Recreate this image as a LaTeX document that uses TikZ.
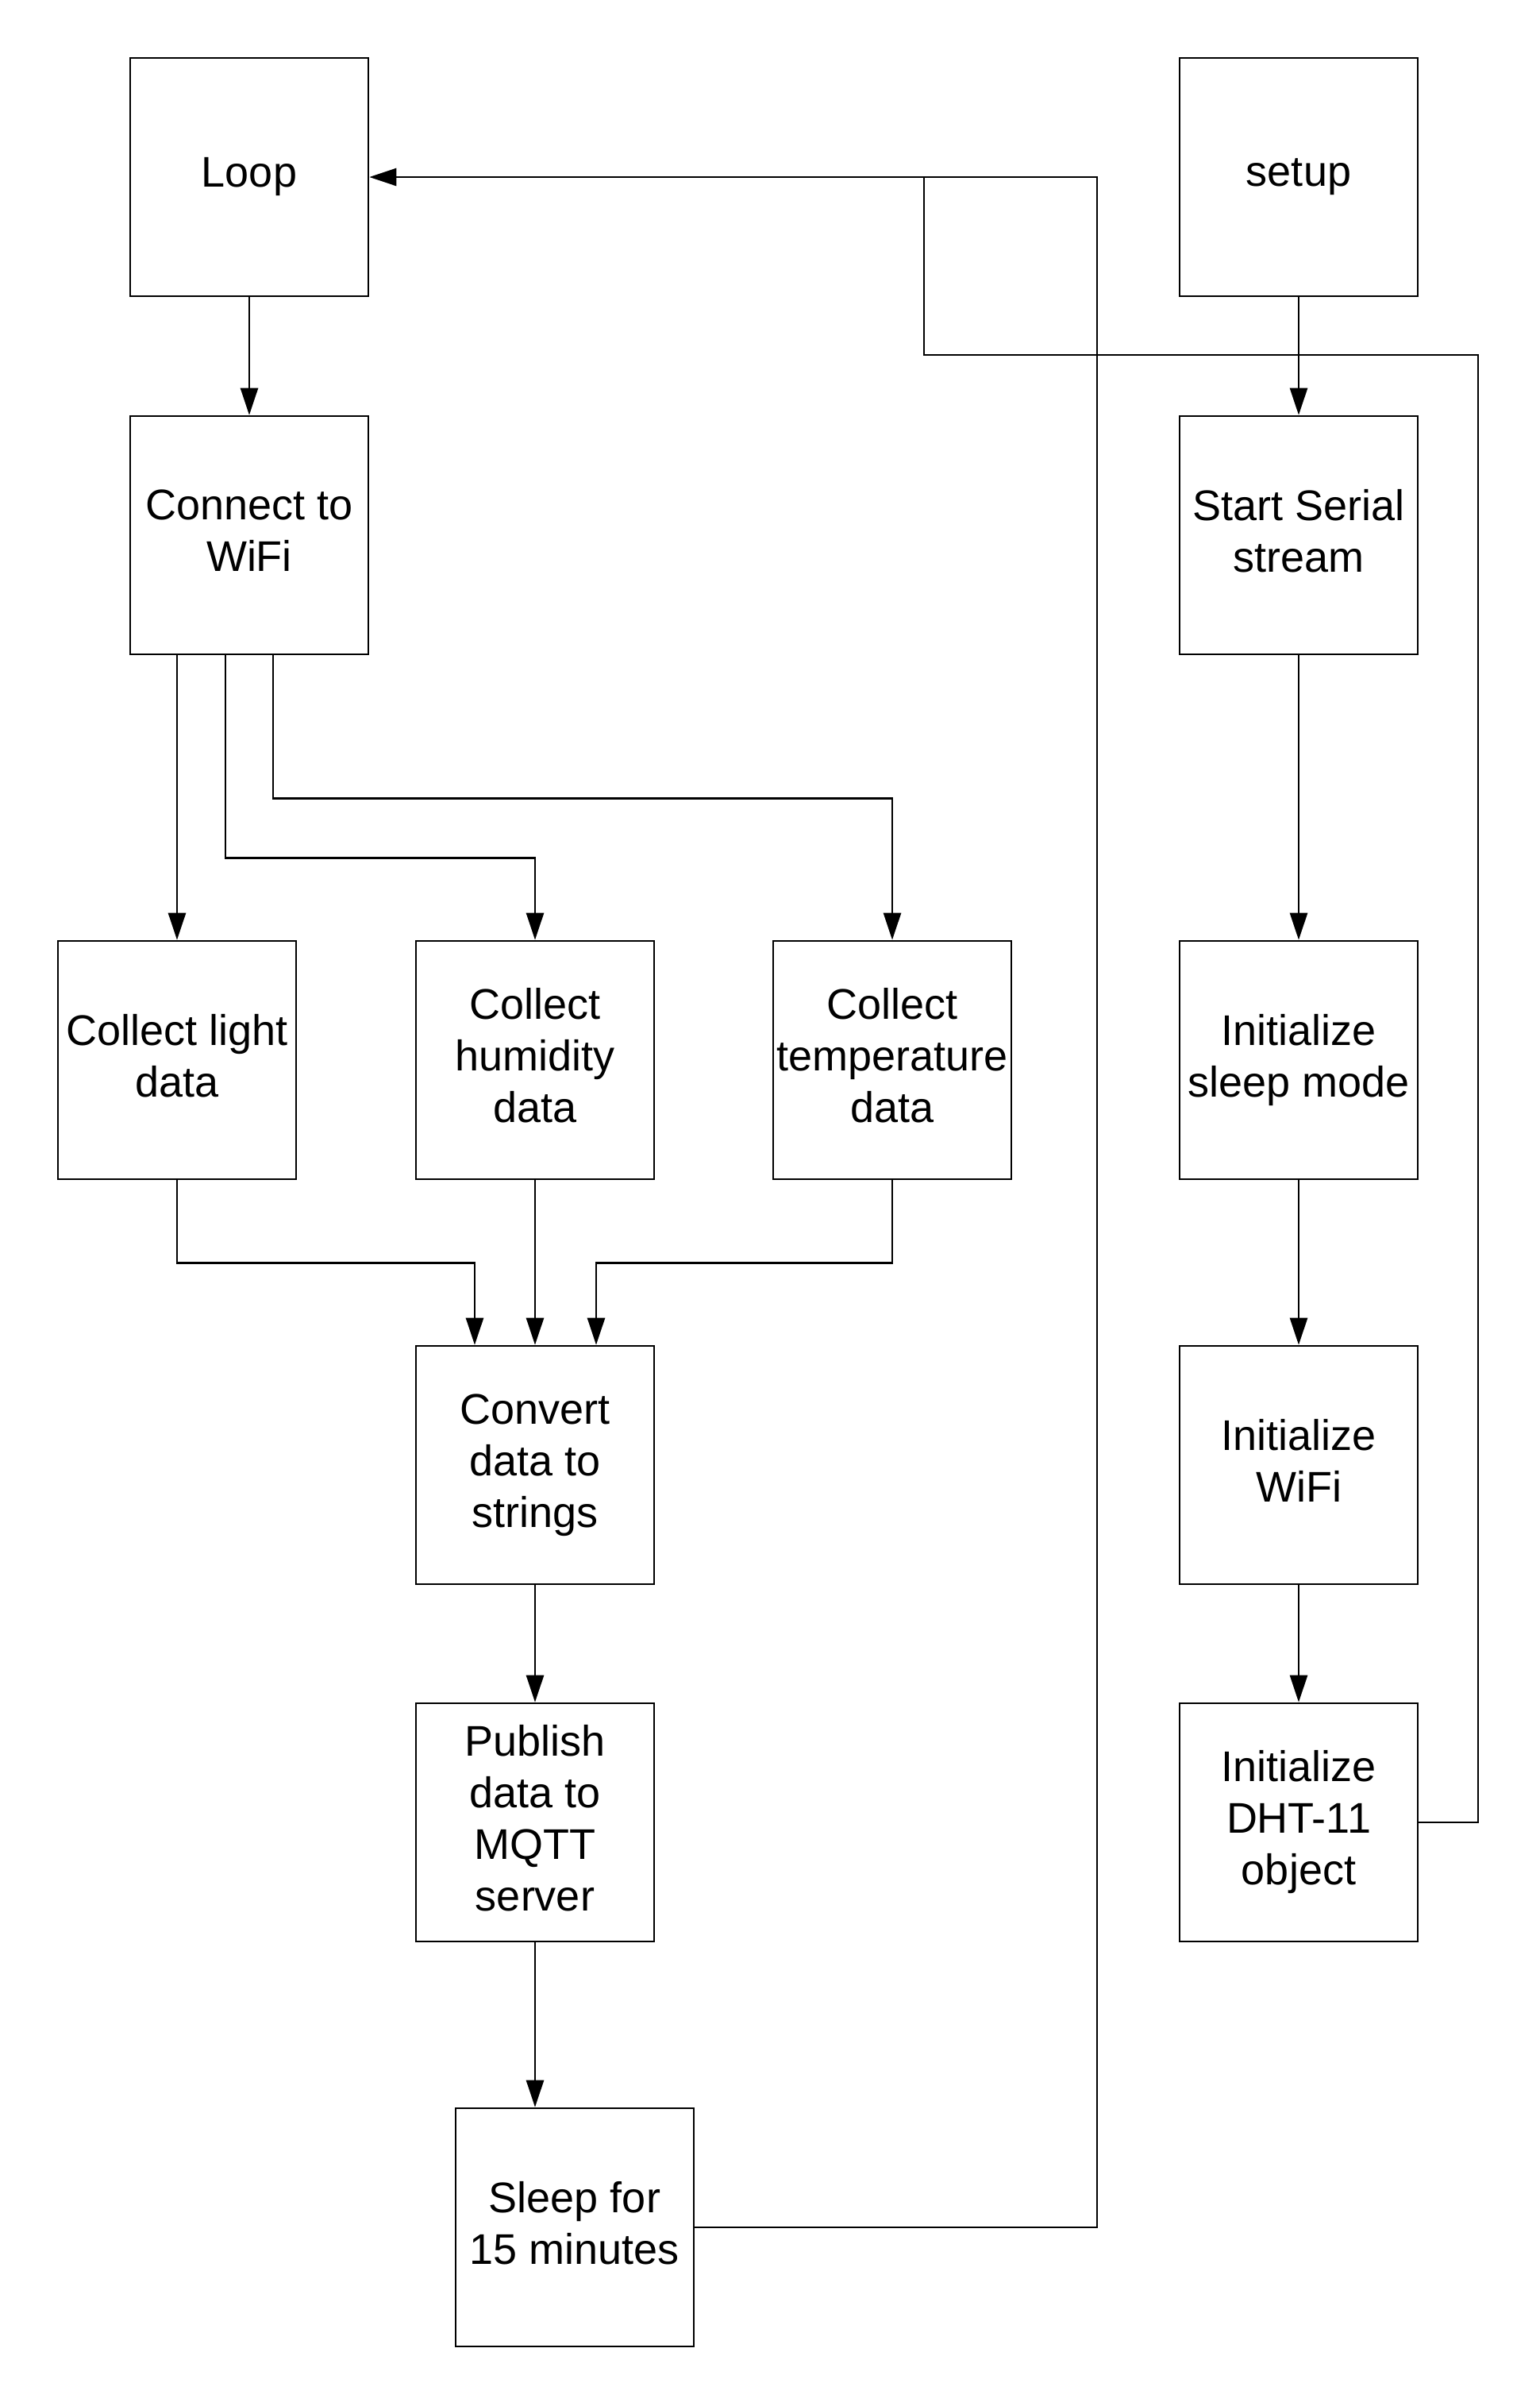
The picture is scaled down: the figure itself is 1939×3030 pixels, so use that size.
\documentclass[tikz,border=0pt]{standalone}
\usepackage{fontspec}
\setmainfont{Liberation Sans}
\usetikzlibrary{arrows.meta,calc}
\begin{document}
\begin{tikzpicture}[x=0.5pt,y=-0.5pt,
  box/.style={draw, line width=1.35pt, minimum width=150pt, minimum height=150pt,
    inner sep=0pt, align=center, font=\fontsize{27}{32.5}\selectfont,
    execute at end node={\vphantom{p}}},
  conn/.style={line width=1.35pt},
  arr/.style={conn, -{Triangle[length=17pt,width=11pt]}}]
\useasboundingbox (0,0) rectangle (1939,3030);
% left column
\node[box] (loop) at (314,223) {Loop};
\node[box] (conn) at (314,674) {Connect to\\WiFi};
\node[box] (light) at (223,1335) {Collect light\\data};
\node[box] (hum) at (674,1335) {Collect\\humidity\\data};
\node[box] (temp) at (1124,1335) {Collect\\temperature\\data};
\node[box] (conv) at (674,1845) {Convert\\data to\\strings};
\node[box] (pub) at (674,2295) {Publish\\data to\\MQTT\\server};
\node[box] (sleep) at (724,2805) {Sleep for\\15 minutes};
% right column
\node[box] (setup) at (1636,223) {setup};
\node[box] (serial) at (1636,674) {Start Serial\\stream};
\node[box] (smode) at (1636,1335) {Initialize\\sleep mode};
\node[box] (iwifi) at (1636,1845) {Initialize\\WiFi};
\node[box] (dht) at (1636,2295) {Initialize\\DHT-11\\object};
% routing coordinates
\coordinate (r1) at (1382,224);
\coordinate (r2) at (1164,447);
\coordinate (r3) at (1862,447);
% connectors left
\draw[arr] (loop.south) -- (conn.south |- conn.north);
\draw[arr] (conn.south -| light.north) -- (light.north);
\draw[arr] ($(conn.south)+(-30,0)$) -- ++(0,255) -| (hum.north);
\draw[arr] ($(conn.south)+(30,0)$) -- ++(0,180) -| (temp.north);
\draw[arr] (light.south) -- ++(0,104) -| ($(conv.north)+(-76,0)$);
\draw[arr] (hum.south) -- (conv.north);
\draw[arr] (temp.south) -- ++(0,104) -| ($(conv.north)+(77,0)$);
\draw[arr] (conv.south) -- (pub.north);
\draw[arr] (pub.south) -- (pub.south |- sleep.north);
\draw[arr] (sleep.east) -- (sleep.east -| r1) -- (r1 |- loop.east) -- (loop.east);
% connectors right
\draw[arr] (setup.south) -- (serial.north);
\draw[arr] (serial.south) -- (smode.north);
\draw[arr] (smode.south) -- (iwifi.north);
\draw[arr] (iwifi.south) -- (dht.north);
\draw[conn] (dht.east) -- (dht.east -| r3) -- (r3) -- (r2) -- (r2 |- loop.east);
\end{tikzpicture}
\end{document}
